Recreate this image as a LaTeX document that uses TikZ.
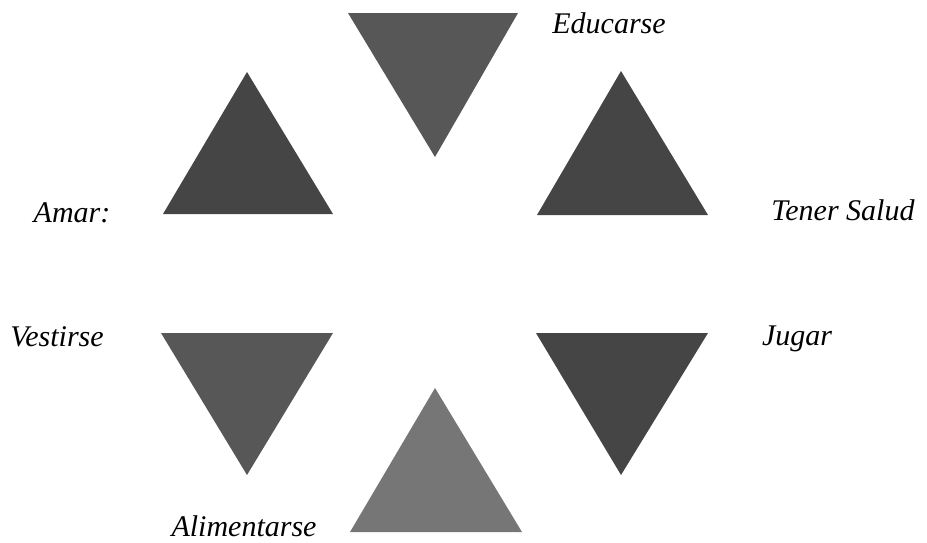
\documentclass[tikz,border=0pt]{standalone}
\usepackage{fontspec}
\setmainfont{Liberation Serif}
\usepackage{tikz}
\usetikzlibrary{positioning}
\definecolor{triDark}{HTML}{454545}
\definecolor{triMid}{HTML}{575757}
\definecolor{triLight}{HTML}{767676}

\begin{document}
\begin{tikzpicture}[x=1pt, y=-1pt,
    tri/.style={fill=triDark, draw=none},
    lbl/.style={anchor=base, inner sep=0pt, font=\fontsize{30}{32}\selectfont\itshape}]
    \useasboundingbox (0,0) rectangle (927,542);

    % triangles
    \fill[tri, fill=triMid] (348,13) -- (518,13) -- (435,157) -- cycle;
    \fill[tri] (247,72) -- (333,214) -- (163,214) -- cycle;
    \fill[tri] (621,71) -- (708,215) -- (537,215) -- cycle;
    \fill[tri, fill=triMid] (161,333) -- (333,333) -- (247,475) -- cycle;
    \fill[tri] (536,333) -- (708,333) -- (621,475) -- cycle;
    \fill[tri, fill=triLight] (435,388) -- (522,532) -- (350,532) -- cycle;

    % labels
    \node[lbl] (educ) at (609,33) {Educarse};
    \node[lbl] (amar) at (72,222) {Amar:};
    \node[lbl] (salud) at (843,220) {Tener Salud};
    \node[lbl] (vest) at (57,346) {Vestirse};
    \node[lbl] (jugar) at (797,345) {Jugar};
    \node[lbl] (alim) at (244,536) {Alimentarse};
\end{tikzpicture}
\end{document}
